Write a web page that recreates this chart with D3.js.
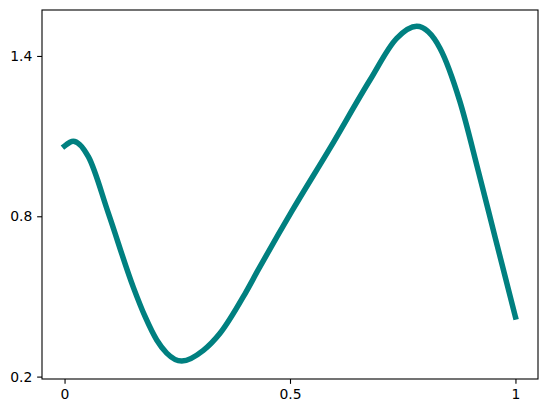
<!DOCTYPE html>
<html>
<head>
<meta charset="utf-8">
<script src="https://cdn.jsdelivr.net/npm/d3@7"></script>
<style>
  body { margin: 0; background: #fff; }
  .tick text { font-family: "DejaVu Sans", sans-serif; font-size: 13.9px; fill: #000; }
</style>
</head>
<body>
<div id="chart"></div>
<script>
// values
var xs = [0, 0.0195, 0.0528, 0.0971, 0.1526, 0.1785, 0.2044, 0.2266, 0.2600, 0.3078,
          0.3448, 0.4002, 0.4297, 0.5038, 0.5887, 0.6774, 0.7366, 0.7809, 0.8326,
          0.8769, 0.9175, 0.9545, 1.0];
var ys = [1.063, 1.081, 1.023, 0.812, 0.534, 0.425, 0.337, 0.288, 0.258, 0.298,
          0.362, 0.510, 0.600, 0.818, 1.055, 1.310, 1.466, 1.511, 1.429,
          1.229, 0.970, 0.724, 0.423];
var xTicks = [0, 0.5, 1];
var xTickLabels = ["0", "0.5", "1"];
var yTicks = [0.2, 0.8, 1.4];
var yTickLabels = ["0.2", "0.8", "1.4"];

var margin = { top: 10, right: 9, bottom: 34, left: 42 },
    width = 547 - margin.left - margin.right,
    height = 413 - margin.top - margin.bottom;

var svg = d3.select("#chart")
    .append("svg")
    .attr("width", 547)
    .attr("height", 413)
    .append("g")
    .attr("transform", "translate(" + margin.left + "," + margin.top + ")");

var x = d3.scaleLinear().domain([-0.05, 1.05]).range([0, width]);
var y = d3.scaleLinear().domain([0.191, 1.572]).range([height, 0]);

var data = xs.map(function (d, i) { return { x: d, y: ys[i] }; });

var line = d3.line()
    .x(function (d) { return x(d.x); })
    .y(function (d) { return y(d.y); })
    .curve(d3.curveMonotoneX);

svg.append("path")
    .datum(data)
    .attr("fill", "none")
    .attr("stroke", "#008080")
    .attr("stroke-width", 5.5)
    .attr("stroke-linecap", "square")
    .attr("stroke-linejoin", "round")
    .attr("d", line);

// frame
svg.append("rect")
    .attr("width", width)
    .attr("height", height)
    .attr("fill", "none")
    .attr("stroke", "#000")
    .attr("stroke-width", 1.1);

var xAxis = svg.append("g")
    .attr("transform", "translate(0," + height + ")")
    .call(d3.axisBottom(x).tickValues(xTicks)
        .tickFormat(function (d, i) { return xTickLabels[i]; })
        .tickSize(4.86).tickPadding(4.86));

var yAxis = svg.append("g")
    .call(d3.axisLeft(y).tickValues(yTicks)
        .tickFormat(function (d, i) { return yTickLabels[i]; })
        .tickSize(4.86).tickPadding(4.86));

[xAxis, yAxis].forEach(function (a) {
    a.select(".domain").remove();
    a.selectAll(".tick line").attr("stroke", "#000").attr("stroke-width", 1.1);
    a.attr("font-family", null).attr("font-size", null);
});
</script>
</body>
</html>
